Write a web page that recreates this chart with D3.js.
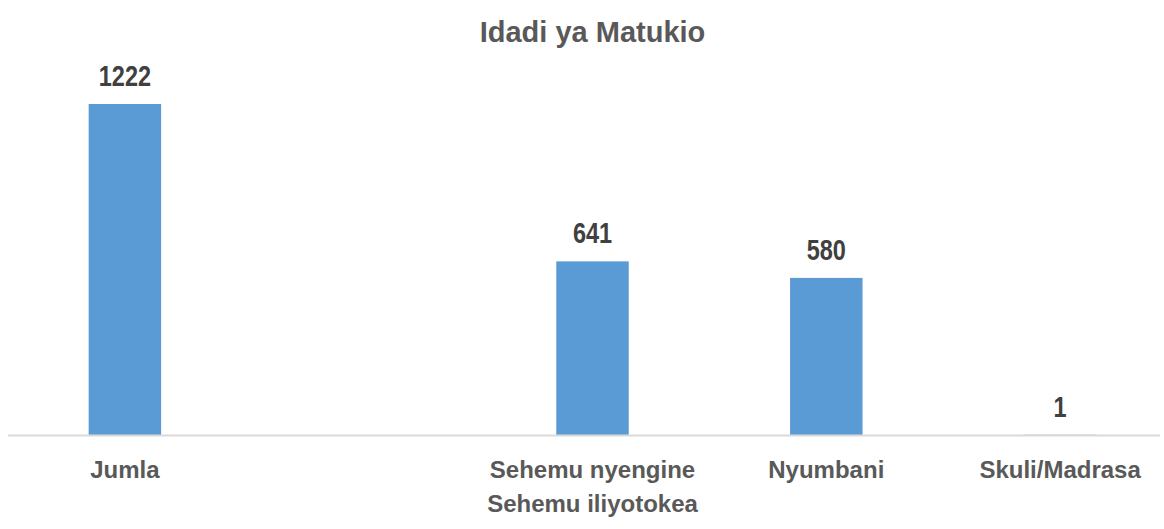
<!DOCTYPE html>
<html>
<head>
<meta charset="utf-8">
<script src="https://cdn.jsdelivr.net/npm/d3@7"></script>
<style>
    body { margin: 0; background: #fff; }
    svg { display: block; }
</style>
</head>
<body>
<div id="chart"></div>
<script>
// chart data
const categories = ["Jumla", "", "Sehemu nyengine", "Nyumbani", "Skuli/Madrasa"];
const groupLabels = ["", "", "Sehemu iliyotokea", "", ""];
const counts = [1222, null, 641, 580, 1];
const chartTitle = "Idadi ya Matukio";

const width = 1164;
const height = 529;
const baseline = 435;

const svg = d3.select("#chart")
    .append("svg")
    .attr("width", width)
    .attr("height", height);

// slots are evenly spaced, bars sit in the middle of each one
const x = d3.scaleBand()
    .domain(d3.range(categories.length))
    .range([8, 1177])
    .paddingInner(0.69)
    .paddingOuter(0.345);

const y = d3.scaleLinear()
    .domain([0, 1222])
    .range([baseline, 104]);

svg.append("text")
    .attr("x", 592.5)
    .attr("y", 42)
    .attr("text-anchor", "middle")
    .attr("font-family", "'Liberation Sans', Arial, sans-serif")
    .attr("font-weight", "bold")
    .attr("font-size", 29)
    .attr("fill", "#595959")
    .text(chartTitle);

const data = categories.map((c, i) => ({ i: i, name: c, group: groupLabels[i], value: counts[i] }));
const withValues = data.filter(d => d.value !== null);

svg.selectAll("rect.bar")
    .data(withValues)
    .enter()
    .append("rect")
    .attr("class", "bar")
    .attr("x", d => x(d.i))
    .attr("width", x.bandwidth())
    .attr("y", d => y(d.value))
    .attr("height", d => baseline - y(d.value))
    .attr("fill", "#5b9bd5");

// axis line
svg.append("line")
    .attr("x1", 8)
    .attr("x2", 1160)
    .attr("y1", baseline + 0.5)
    .attr("y2", baseline + 0.5)
    .attr("stroke", "#d9d9d9")
    .attr("stroke-width", 2);

// data labels use a narrow face, so squeeze them horizontally
svg.selectAll("text.value")
    .data(withValues)
    .enter()
    .append("text")
    .attr("class", "value")
    .attr("transform", d => `translate(${x(d.i) + x.bandwidth() / 2}, ${y(d.value) - 18}) scale(0.81, 1)`)
    .attr("text-anchor", "middle")
    .attr("font-family", "'Liberation Sans', Arial, sans-serif")
    .attr("font-weight", "bold")
    .attr("font-size", 29)
    .attr("fill", "#404040")
    .text(d => d.value);

svg.selectAll("text.cat")
    .data(data)
    .enter()
    .append("text")
    .attr("class", "cat")
    .attr("x", d => x(d.i) + x.bandwidth() / 2)
    .attr("y", 478)
    .attr("text-anchor", "middle")
    .attr("font-family", "'Liberation Sans', Arial, sans-serif")
    .attr("font-weight", "bold")
    .attr("font-size", 24)
    .attr("fill", "#595959")
    .text(d => d.name);

svg.selectAll("text.group")
    .data(data.filter(d => d.group))
    .enter()
    .append("text")
    .attr("class", "group")
    .attr("x", d => x(d.i) + x.bandwidth() / 2)
    .attr("y", 512)
    .attr("text-anchor", "middle")
    .attr("font-family", "'Liberation Sans', Arial, sans-serif")
    .attr("font-weight", "bold")
    .attr("font-size", 24)
    .attr("fill", "#595959")
    .text(d => d.group);
</script>
</body>
</html>
